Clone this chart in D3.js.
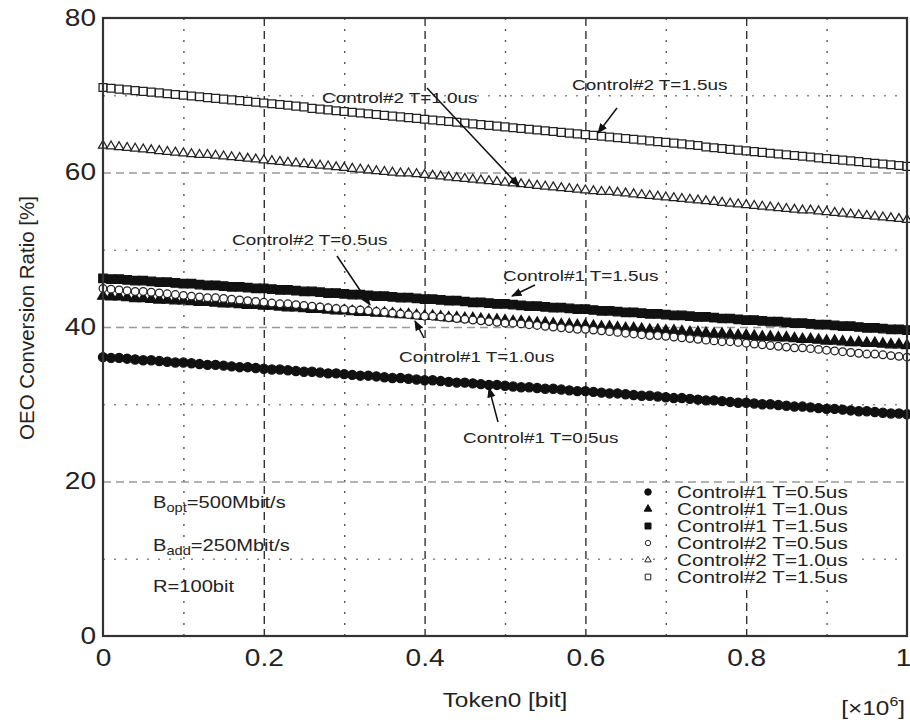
<!DOCTYPE html>
<html lang="en">
<head>
<meta charset="UTF-8">
<script src="https://d3js.org/d3.v7.min.js"></script>
<title>OEO Conversion Ratio</title>
<style>
  body { margin: 0; background: #fff; }
  text { font-family: "Liberation Sans", Arial, sans-serif; fill: #222; }
</style>
</head>
<body>
<div id="chart"></div>
<script>
// token0 values (x10^6 bit)
const token = [0,0.01,0.02,0.03,0.04,0.05,0.06,0.07,0.08,0.09,0.1,0.11,0.12,0.13,0.14,0.15,0.16,0.17,0.18,0.19,0.2,
  0.21,0.22,0.23,0.24,0.25,0.26,0.27,0.28,0.29,0.3,0.31,0.32,0.33,0.34,0.35,0.36,0.37,0.38,0.39,0.4,
  0.41,0.42,0.43,0.44,0.45,0.46,0.47,0.48,0.49,0.5,0.51,0.52,0.53,0.54,0.55,0.56,0.57,0.58,0.59,0.6,
  0.61,0.62,0.63,0.64,0.65,0.66,0.67,0.68,0.69,0.7,0.71,0.72,0.73,0.74,0.75,0.76,0.77,0.78,0.79,0.8,
  0.81,0.82,0.83,0.84,0.85,0.86,0.87,0.88,0.89,0.9,0.91,0.92,0.93,0.94,0.95,0.96,0.97,0.98,0.99,1];

const c1_05 = [36.1,36.0,36.0,35.9,35.8,35.7,35.7,35.6,35.5,35.4,35.4,35.3,35.2,35.1,35.1,35.0,34.9,34.8,34.8,34.7,34.6,
  34.5,34.5,34.4,34.3,34.2,34.2,34.1,34.0,34.0,33.9,33.8,33.7,33.7,33.6,33.5,33.4,33.4,33.3,33.2,33.1,
  33.1,33.0,32.9,32.8,32.8,32.7,32.6,32.5,32.5,32.4,32.3,32.2,32.2,32.1,32.0,32.0,31.9,31.8,31.7,31.7,
  31.6,31.5,31.4,31.4,31.3,31.2,31.1,31.1,31.0,30.9,30.8,30.8,30.7,30.6,30.5,30.5,30.4,30.3,30.2,30.2,
  30.1,30.0,30.0,29.9,29.8,29.7,29.7,29.6,29.5,29.4,29.4,29.3,29.2,29.1,29.1,29.0,28.9,28.8,28.8,28.7];

const c1_10 = [44.0,43.9,43.9,43.8,43.7,43.7,43.6,43.5,43.5,43.4,43.4,43.3,43.2,43.2,43.1,43.0,43.0,42.9,42.8,42.8,42.7,
  42.7,42.6,42.5,42.5,42.4,42.3,42.3,42.2,42.1,42.1,42.0,41.9,41.9,41.8,41.8,41.7,41.6,41.6,41.5,41.4,
  41.4,41.3,41.2,41.2,41.1,41.1,41.0,40.9,40.9,40.8,40.7,40.7,40.6,40.5,40.5,40.4,40.3,40.3,40.2,40.2,
  40.1,40.0,40.0,39.9,39.8,39.8,39.7,39.6,39.6,39.5,39.5,39.4,39.3,39.3,39.2,39.1,39.1,39.0,38.9,38.9,
  38.8,38.7,38.7,38.6,38.6,38.5,38.4,38.4,38.3,38.2,38.2,38.1,38.0,38.0,37.9,37.9,37.8,37.7,37.7,37.6];

const c1_15 = [46.3,46.2,46.2,46.1,46.0,46.0,45.9,45.8,45.8,45.7,45.6,45.6,45.5,45.4,45.4,45.3,45.2,45.2,45.1,45.0,45.0,
  44.9,44.8,44.8,44.7,44.6,44.6,44.5,44.4,44.4,44.3,44.2,44.2,44.1,44.0,44.0,43.9,43.8,43.8,43.7,43.6,
  43.6,43.5,43.4,43.4,43.3,43.2,43.2,43.1,43.0,43.0,42.9,42.8,42.7,42.7,42.6,42.5,42.5,42.4,42.3,42.3,
  42.2,42.1,42.1,42.0,41.9,41.9,41.8,41.7,41.7,41.6,41.5,41.5,41.4,41.3,41.3,41.2,41.1,41.1,41.0,40.9,
  40.9,40.8,40.7,40.7,40.6,40.5,40.5,40.4,40.3,40.3,40.2,40.1,40.1,40.0,39.9,39.9,39.8,39.7,39.7,39.6];

const c2_05 = [45.0,44.9,44.8,44.7,44.6,44.6,44.5,44.4,44.3,44.2,44.1,44.0,43.9,43.8,43.8,43.7,43.6,43.5,43.4,43.3,43.2,
  43.1,43.0,43.0,42.9,42.8,42.7,42.6,42.5,42.4,42.3,42.2,42.2,42.1,42.0,41.9,41.8,41.7,41.6,41.5,41.4,
  41.4,41.3,41.2,41.1,41.0,40.9,40.8,40.7,40.6,40.5,40.5,40.4,40.3,40.2,40.1,40.0,39.9,39.8,39.7,39.7,
  39.6,39.5,39.4,39.3,39.2,39.1,39.0,38.9,38.9,38.8,38.7,38.6,38.5,38.4,38.3,38.2,38.1,38.1,38.0,37.9,
  37.8,37.7,37.6,37.5,37.4,37.3,37.3,37.2,37.1,37.0,36.9,36.8,36.7,36.6,36.5,36.5,36.4,36.3,36.2,36.1];

const c2_10 = [63.5,63.4,63.3,63.2,63.1,63.0,62.9,62.8,62.7,62.6,62.5,62.4,62.3,62.3,62.2,62.1,62.0,61.9,61.8,61.7,61.6,
  61.5,61.4,61.3,61.2,61.1,61.0,60.9,60.8,60.7,60.6,60.5,60.4,60.3,60.2,60.1,60.0,59.9,59.9,59.8,59.7,
  59.6,59.5,59.4,59.3,59.2,59.1,59.0,58.9,58.8,58.7,58.6,58.5,58.4,58.3,58.2,58.1,58.0,57.9,57.8,57.7,
  57.6,57.5,57.5,57.4,57.3,57.2,57.1,57.0,56.9,56.8,56.7,56.6,56.5,56.4,56.3,56.2,56.1,56.0,55.9,55.8,
  55.7,55.6,55.5,55.4,55.3,55.2,55.1,55.1,55.0,54.9,54.8,54.7,54.6,54.5,54.4,54.3,54.2,54.1,54.0,53.9];

const c2_15 = [71.0,70.9,70.8,70.7,70.6,70.5,70.4,70.3,70.2,70.1,70.0,69.9,69.8,69.7,69.6,69.5,69.4,69.3,69.2,69.1,69.0,
  68.9,68.8,68.7,68.6,68.5,68.3,68.2,68.1,68.0,67.9,67.8,67.7,67.6,67.5,67.4,67.3,67.2,67.1,67.0,66.9,
  66.8,66.7,66.6,66.5,66.4,66.3,66.2,66.1,66.0,65.9,65.8,65.7,65.6,65.5,65.4,65.3,65.2,65.1,65.0,64.9,
  64.8,64.7,64.6,64.5,64.4,64.3,64.2,64.1,64.0,63.9,63.8,63.7,63.6,63.5,63.3,63.2,63.1,63.0,62.9,62.8,
  62.7,62.6,62.5,62.4,62.3,62.2,62.1,62.0,61.9,61.8,61.7,61.6,61.5,61.4,61.3,61.2,61.1,61.0,60.9,60.8];

const seriesNames = ["Control#1 T=0.5us","Control#1 T=1.0us","Control#1 T=1.5us",
                     "Control#2 T=0.5us","Control#2 T=1.0us","Control#2 T=1.5us"];
const seriesValues = [c1_05, c1_10, c1_15, c2_05, c2_10, c2_15];
const xTicks = [0, 0.2, 0.4, 0.6, 0.8, 1];
const yTicks = [0, 20, 40, 60, 80];

const W = 910, H = 720;
const SX = 1.22; // the original figure is stretched horizontally
const margin = {top: 18, right: 3, bottom: 84, left: 103},
      width = W - margin.left - margin.right,
      height = H - margin.top - margin.bottom;

const svgRoot = d3.select("#chart").append("svg").attr("width", W).attr("height", H);
const defs = svgRoot.append("defs");
defs.append("marker").attr("id", "arr")
    .attr("viewBox", "0 0 10 10").attr("refX", 9).attr("refY", 5)
    .attr("markerWidth", 7).attr("markerHeight", 7).attr("orient", "auto")
    .append("path").attr("d", "M0,1 L10,5 L0,9 Z").attr("fill", "#111");

const svg = svgRoot.append("g").attr("transform", "translate(" + margin.left + "," + margin.top + ")");

// stretched text helper
function label(parent, xx, yy, size, anchor) {
  return parent.append("text")
    .attr("transform", "translate(" + xx + "," + yy + ") scale(" + SX + ",1)")
    .attr("text-anchor", anchor || "start")
    .style("font-size", size + "px");
}

const x = d3.scaleLinear().domain([0, 1]).range([0, width]);
const y = d3.scaleLinear().domain([0, 80]).range([height, 0]);

// grid: minor dotted, major dashed
svg.append("g")
   .call(d3.axisBottom(x).tickValues([0.1, 0.3, 0.5, 0.7, 0.9]).tickSize(height).tickFormat(""))
   .call(g => g.select(".domain").remove())
   .selectAll("line").attr("stroke", "#555").attr("stroke-dasharray", "2,9").attr("stroke-width", 1.4);
svg.append("g")
   .call(d3.axisBottom(x).tickValues([0.2, 0.4, 0.6, 0.8]).tickSize(height).tickFormat(""))
   .call(g => g.select(".domain").remove())
   .selectAll("line").attr("stroke", "#333").attr("stroke-dasharray", "8,5").attr("stroke-width", 1.4);
svg.append("g")
   .call(d3.axisLeft(y).tickValues([10, 30, 50, 70]).tickSize(-width).tickFormat(""))
   .call(g => g.select(".domain").remove())
   .selectAll("line").attr("stroke", "#888").attr("stroke-dasharray", "2,9").attr("stroke-width", 1.4);
svg.append("g")
   .call(d3.axisLeft(y).tickValues([20, 40, 60]).tickSize(-width).tickFormat(""))
   .call(g => g.select(".domain").remove())
   .selectAll("line").attr("stroke", "#999").attr("stroke-dasharray", "8,5").attr("stroke-width", 1.4);

// series markers
const sym = [
  {type: d3.symbolCircle, size: 66, fill: "#111", stroke: "#111"},
  {type: d3.symbolTriangle, size: 50, fill: "#111", stroke: "#111"},
  {type: d3.symbolSquare, size: 72, fill: "#111", stroke: "#111"},
  {type: d3.symbolCircle, size: 46, fill: "#fff", stroke: "#222"},
  {type: d3.symbolTriangle, size: 36, fill: "#fff", stroke: "#222"},
  {type: d3.symbolSquare, size: 62, fill: "#fff", stroke: "#222"}
];

seriesValues.forEach(function(vals, i) {
  const s = sym[i];
  svg.append("g").selectAll("path").data(vals).enter().append("path")
     .attr("d", d3.symbol().type(s.type).size(s.size))
     .attr("transform", (d, j) => "translate(" + x(token[j]) + "," + y(d) + ")")
     .attr("fill", s.fill).attr("stroke", s.stroke).attr("stroke-width", 1.25);
});

// frame
svg.append("rect").attr("width", width).attr("height", height)
   .attr("fill", "none").attr("stroke", "#333").attr("stroke-width", 2.2);

// tick labels
svg.append("g").attr("transform", "translate(0," + height + ")")
   .call(d3.axisBottom(x).tickValues(xTicks).tickSize(0).tickPadding(14)
         .tickFormat(d => d === 0 || d === 1 ? d : d3.format(".1f")(d)))
   .call(g => g.select(".domain").remove())
   .selectAll("text").style("font-size", "23px").attr("fill", "#111")
   .attr("transform", d => "translate(" + (d === 1 ? -4 : 0) + ",0) scale(" + SX + ",1)");
svg.append("g")
   .call(d3.axisLeft(y).tickValues(yTicks).tickSize(0))
   .call(g => g.select(".domain").remove())
   .selectAll("text").style("font-size", "23px").attr("fill", "#111")
   .attr("x", 0).attr("transform", "translate(-7,0) scale(" + SX + ",1)");

// axis titles
label(svg, width / 2, height + 71, 20, "middle").text("Token0 [bit]");
const mult = label(svg, width - 2, height + 79, 20, "end");
mult.append("tspan").text("[\u00d710");
mult.append("tspan").attr("dy", -9).style("font-size", "13px").text("6");
mult.append("tspan").attr("dy", 9).text("]");
svg.append("text").attr("text-anchor", "middle").attr("transform", "rotate(-90)")
   .attr("x", -height / 2 + 9).attr("y", -69)
   .style("font-size", "20.5px").text("OEO Conversion Ratio [%]");

// legend
const legend = svg.append("g").attr("transform", "translate(545,474)");
seriesNames.forEach(function(name, i) {
  const s = sym[i];
  const row = legend.append("g").attr("transform", "translate(0," + i * 17 + ")");
  row.append("path").attr("d", d3.symbol().type(s.type).size(s.size * 0.5))
     .attr("fill", s.fill).attr("stroke", s.stroke).attr("stroke-width", 1);
  row.append("rect").attr("x", 27).attr("y", -8).attr("width", 184).attr("height", 16).attr("fill", "#fff");
  label(row, 29, 6, 17).text(name);
});

// parameters text
function paramText(yy, main, sub, rest) {
  const t = label(svg, 50, yy, 16.5);
  t.append("tspan").text(main);
  if (sub) t.append("tspan").attr("dy", 4).style("font-size", "12px").text(sub);
  if (rest) t.append("tspan").attr("dy", sub ? -4 : 0).text(rest);
}
paramText(490, "B", "opt", "=500Mbit/s");
paramText(533, "B", "add", "=250Mbit/s");
paramText(574, "R=100bit", null, "");

// annotations
const notes = [
  {text: "Control#2 T=1.0us", tx: 219, ty: 85, x1: 324, y1: 70, x2: 416, y2: 168},
  {text: "Control#2 T=1.5us", tx: 469, ty: 72, x1: 514, y1: 90, x2: 495, y2: 115},
  {text: "Control#2 T=0.5us", tx: 129, ty: 227, x1: 234, y1: 238, x2: 267, y2: 287},
  {text: "Control#1 T=1.5us", tx: 400, ty: 263, x1: 432, y1: 267, x2: 409, y2: 278},
  {text: "Control#1 T=1.0us", tx: 296, ty: 344, x1: 321, y1: 320, x2: 312, y2: 303},
  {text: "Control#1 T=0.5us", tx: 360, ty: 425, x1: 395, y1: 404, x2: 386, y2: 370}
];
notes.forEach(function(n) {
  svg.append("line").attr("x1", n.x1).attr("y1", n.y1).attr("x2", n.x2).attr("y2", n.y2)
     .attr("stroke", "#111").attr("stroke-width", 1.5).attr("marker-end", "url(#arr)");
  label(svg, n.tx, n.ty, 15.5).text(n.text);
});
</script>
</body>
</html>
